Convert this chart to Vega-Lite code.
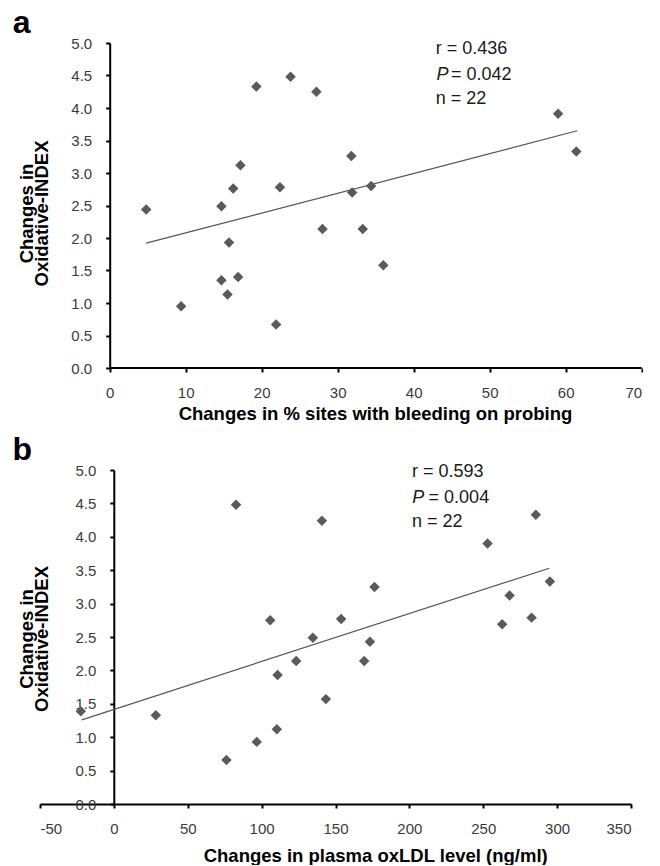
{
  "$schema": "https://vega.github.io/schema/vega-lite/v6.json",
  "padding": {"left": 12, "top": 7, "right": 0, "bottom": 0},
  "background": "white",
  "config": {
    "view": {"stroke": null},
    "font": "Liberation Sans",
    "axis": {
      "grid": false,
      "domainColor": "black",
      "domainWidth": 2,
      "tickColor": "black",
      "tickWidth": 2,
      "tickSize": 4,
      "labelOverlap": false,
      "labelFont": "Liberation Sans",
      "labelFontSize": 15,
      "labelColor": "#3a3a3a",
      "titleFont": "Liberation Sans",
      "titleFontSize": 18.5,
      "titleFontWeight": "bold",
      "titleColor": "black"
    },
    "title": {"font": "Liberation Sans", "fontSize": 32, "fontWeight": "bold", "color": "black", "anchor": "start", "frame": "group", "baseline": "alphabetic"}
  },
  "datasets": {
    "pa": [
      {"x": 4.8, "y": 2.44}, {"x": 9.4, "y": 0.95}, {"x": 14.7, "y": 2.49}, {"x": 14.7, "y": 1.35},
      {"x": 15.5, "y": 1.13}, {"x": 15.7, "y": 1.93}, {"x": 16.25, "y": 2.76}, {"x": 16.9, "y": 1.40},
      {"x": 17.2, "y": 3.12}, {"x": 19.3, "y": 4.33}, {"x": 21.9, "y": 0.67}, {"x": 22.4, "y": 2.78},
      {"x": 23.8, "y": 4.48}, {"x": 27.2, "y": 4.25}, {"x": 28.0, "y": 2.14}, {"x": 31.8, "y": 3.26},
      {"x": 31.9, "y": 2.70}, {"x": 33.3, "y": 2.14}, {"x": 34.4, "y": 2.80}, {"x": 36.0, "y": 1.58},
      {"x": 59.0, "y": 3.91}, {"x": 61.4, "y": 3.33}
    ],
    "la": [{"x": 4.8, "y": 1.92}, {"x": 61.5, "y": 3.65}],
    "axa": [{"x": 0, "x2": 70, "y": 0}],
    "ta": [
      {"x": 42.9, "y": 4.83, "t": "r = 0.436"},
      {"x": 44.9, "y": 4.43, "t": "= 0.042"},
      {"x": 42.9, "y": 4.06, "t": "n = 22"}
    ],
    "tpa": [{"x": 43.0, "y": 4.43, "t": "P"}],
    "pb": [
      {"x": -22.4, "y": 1.39}, {"x": 28.4, "y": 1.33}, {"x": 76.2, "y": 0.66}, {"x": 82.7, "y": 4.48},
      {"x": 96.7, "y": 0.93}, {"x": 105.8, "y": 2.75}, {"x": 110.3, "y": 1.12}, {"x": 110.8, "y": 1.93},
      {"x": 123.4, "y": 2.14}, {"x": 134.7, "y": 2.49}, {"x": 140.8, "y": 4.24}, {"x": 143.5, "y": 1.57},
      {"x": 153.8, "y": 2.77}, {"x": 169.4, "y": 2.14}, {"x": 173.3, "y": 2.43}, {"x": 176.4, "y": 3.25},
      {"x": 252.9, "y": 3.90}, {"x": 262.8, "y": 2.69}, {"x": 267.8, "y": 3.12}, {"x": 282.7, "y": 2.79},
      {"x": 285.6, "y": 4.33}, {"x": 295.1, "y": 3.33}
    ],
    "lb": [{"x": -21.7, "y": 1.26}, {"x": 294.7, "y": 3.53}],
    "tb": [
      {"x": 201.7, "y": 4.90, "t": "r = 0.593"},
      {"x": 213.0, "y": 4.51, "t": "= 0.004"},
      {"x": 201.7, "y": 4.14, "t": "n = 22"}
    ],
    "tpb": [{"x": 202.0, "y": 4.51, "t": "P"}]
  },
  "vconcat": [
    {
      "width": 601.7,
      "height": 325,
      "title": {"text": "a", "dx": -27.3, "offset": -4},
      "layer": [
        {
          "data": {"name": "axa"},
          "mark": {"type": "rule", "color": "black", "strokeWidth": 2},
          "encoding": {
            "x": {
              "field": "x", "type": "quantitative",
              "scale": {"domain": [-9.17, 70], "nice": false},
              "axis": {
                "domain": false,
                "labelOverlap": false,
                "values": [0, 10, 20, 30, 40, 50, 60, 70],
                "labelPadding": 13,
                "title": "Changes in % sites with bleeding on probing",
                "titleX": 335, "titleY": 51, "titleAlign": "center", "titleBaseline": "alphabetic"
              }
            },
            "x2": {"field": "x2"},
            "y": {
              "field": "y", "type": "quantitative",
              "scale": {"domain": [0, 5], "nice": false},
              "axis": {
                "offset": -69.7,
                "labelOverlap": false,
                "tickCount": 11,
                "values": [0, 0.5, 1, 1.5, 2, 2.5, 3, 3.5, 4, 4.5, 5],
                "format": ".1f",
                "labelPadding": 14,
                "title": ["Changes in", "Oxidative-INDEX"],
                "titleAngle": -90,
                "titleX": -77.3, "titleY": 170, "titleAlign": "center", "titleBaseline": "alphabetic",
                "titleLineHeight": 15
              }
            }
          }
        },
        {
          "data": {"name": "la"},
          "mark": {"type": "line", "color": "#555555", "strokeWidth": 1.2},
          "encoding": {
            "x": {"field": "x", "type": "quantitative"},
            "y": {"field": "y", "type": "quantitative"}
          }
        },
        {
          "data": {"name": "pa"},
          "mark": {"type": "point", "shape": "diamond", "filled": true, "size": 110, "color": "#5a5a5a", "opacity": 1},
          "encoding": {
            "x": {"field": "x", "type": "quantitative"},
            "y": {"field": "y", "type": "quantitative"}
          }
        },
        {
          "data": {"name": "ta"},
          "mark": {"type": "text", "align": "left", "baseline": "alphabetic", "fontSize": 18, "color": "#1a1a1a", "font": "Liberation Sans"},
          "encoding": {
            "x": {"field": "x", "type": "quantitative"},
            "y": {"field": "y", "type": "quantitative"},
            "text": {"field": "t"}
          }
        },
        {
          "data": {"name": "tpa"},
          "mark": {"type": "text", "align": "left", "baseline": "alphabetic", "fontSize": 18, "fontStyle": "italic", "color": "#1a1a1a", "font": "Liberation Sans"},
          "encoding": {
            "x": {"field": "x", "type": "quantitative"},
            "y": {"field": "y", "type": "quantitative"},
            "text": {"field": "t"}
          }
        }
      ]
    },
    {
      "width": 591,
      "height": 334,
      "title": {"text": "b", "dx": -27.5, "offset": -4},
      "layer": [
        {
          "data": {"name": "lb"},
          "mark": {"type": "line", "color": "#555555", "strokeWidth": 1.2},
          "encoding": {
            "x": {
              "field": "x", "type": "quantitative",
              "scale": {"domain": [-50, 350], "nice": false},
              "axis": {
                "labelOverlap": false,
                "values": [-50, 0, 50, 100, 150, 200, 250, 300, 350],
                "labelExpr": "datum.value < 0 ? '-' + format(-datum.value, 'd') : format(datum.value, 'd')",
                "labelPadding": 13,
                "title": "Changes in plasma oxLDL level (ng/ml)",
                "titleX": 335.2, "titleY": 57, "titleAlign": "center", "titleBaseline": "alphabetic"
              }
            },
            "y": {
              "field": "y", "type": "quantitative",
              "scale": {"domain": [0, 5], "nice": false},
              "axis": {
                "offset": -73.8,
                "labelOverlap": false,
                "tickCount": 11,
                "values": [0, 0.5, 1, 1.5, 2, 2.5, 3, 3.5, 4, 4.5, 5],
                "format": ".1f",
                "labelPadding": 14,
                "title": ["Changes in", "Oxidative-INDEX"],
                "titleAngle": -90,
                "titleX": -81.4, "titleY": 168.5, "titleAlign": "center", "titleBaseline": "alphabetic",
                "titleLineHeight": 15
              }
            }
          }
        },
        {
          "data": {"name": "pb"},
          "mark": {"type": "point", "shape": "diamond", "filled": true, "size": 110, "color": "#5a5a5a", "opacity": 1},
          "encoding": {
            "x": {"field": "x", "type": "quantitative"},
            "y": {"field": "y", "type": "quantitative"}
          }
        },
        {
          "data": {"name": "tb"},
          "mark": {"type": "text", "align": "left", "baseline": "alphabetic", "fontSize": 18, "color": "#1a1a1a", "font": "Liberation Sans"},
          "encoding": {
            "x": {"field": "x", "type": "quantitative"},
            "y": {"field": "y", "type": "quantitative"},
            "text": {"field": "t"}
          }
        },
        {
          "data": {"name": "tpb"},
          "mark": {"type": "text", "align": "left", "baseline": "alphabetic", "fontSize": 18, "fontStyle": "italic", "color": "#1a1a1a", "font": "Liberation Sans"},
          "encoding": {
            "x": {"field": "x", "type": "quantitative"},
            "y": {"field": "y", "type": "quantitative"},
            "text": {"field": "t"}
          }
        }
      ]
    }
  ],
  "spacing": 10
}
